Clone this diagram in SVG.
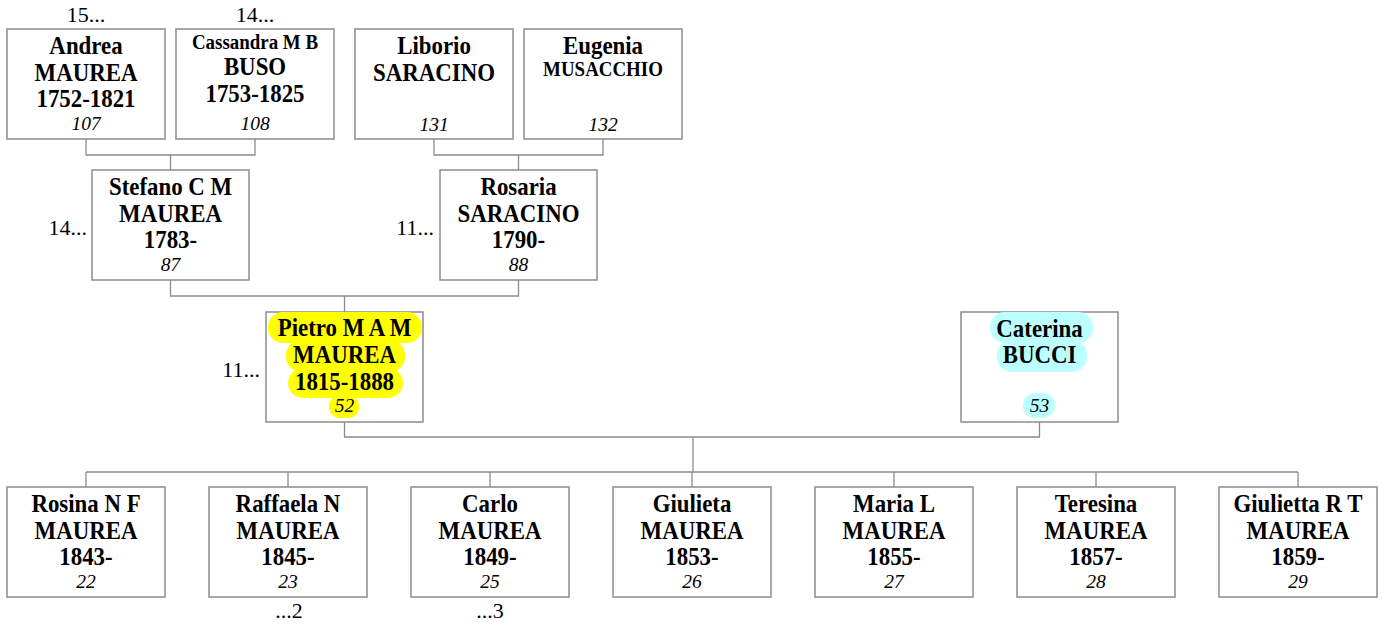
<svg xmlns="http://www.w3.org/2000/svg" width="1385" height="626" viewBox="0 0 1385 626">
<style>
.box{fill:#fff;stroke:#8c8c8c;stroke-width:1.5}
.t{font-family:"Liberation Serif","Times New Roman",serif;font-weight:bold;font-size:26px;text-anchor:middle;fill:#000}
.s{font-family:"Liberation Serif","Times New Roman",serif;font-weight:bold;font-size:21.5px;text-anchor:middle;fill:#000}
.n{font-family:"Liberation Serif","Times New Roman",serif;font-style:italic;font-size:19.5px;text-anchor:middle;fill:#000}
.l{font-family:"Liberation Serif","Times New Roman",serif;font-size:22px;fill:#000}
.c{fill:none;stroke:#8c8c8c;stroke-width:1.3}
.hy{fill:#ffff00}
.hc{fill:#bbffff}
</style>
<g id="connectors">
<path class="c" d="M86,139 V155 H255 V139 M170.5,155 V170"/>
<path class="c" d="M434,139 V155 H603 V139 M518.5,155 V170"/>
<path class="c" d="M170.5,280 V296 H518.5 V280 M344.5,296 V312"/>
<path class="c" d="M344.5,422 V437 H1039.5 V422 M693,437 V472"/>
<path class="c" d="M86,472 H1298 M86,472 V487 M288,472 V487 M490,472 V487 M692,472 V487 M894,472 V487 M1096,472 V487 M1298,472 V487"/>
</g>
<g id="labels">
<text class="l" x="86" y="22" text-anchor="middle">15...</text>
<text class="l" x="255" y="22" text-anchor="middle">14...</text>
<text class="l" x="87" y="235" text-anchor="end">14...</text>
<text class="l" x="434" y="235" text-anchor="end">11...</text>
<text class="l" x="260" y="377" text-anchor="end">11...</text>
<text class="l" x="289" y="618" text-anchor="middle">...2</text>
<text class="l" x="490" y="618" text-anchor="middle">...3</text>
</g>
<g id="n107"><rect class="box" x="7" y="29" width="158" height="110"/>
<g transform="matrix(0.88 0 0 1 86 0)"><text class="t" x="0" y="54">Andrea</text><text class="t" x="0" y="81">MAUREA</text><text class="t" x="0" y="107">1752-1821</text></g><text class="n" x="86" y="130">107</text></g>
<g id="n108"><rect class="box" x="176" y="29" width="158" height="110"/>
<g transform="matrix(0.88 0 0 1 255 0)"><text class="s" x="0" y="49">Cassandra M B</text><text class="t" x="0" y="75">BUSO</text><text class="t" x="0" y="102">1753-1825</text></g><text class="n" x="255" y="130">108</text></g>
<g id="n131"><rect class="box" x="355" y="29" width="158" height="110"/>
<g transform="matrix(0.88 0 0 1 434 0)"><text class="t" x="0" y="54">Liborio</text><text class="t" x="0" y="81">SARACINO</text></g><text class="n" x="434" y="131">131</text></g>
<g id="n132"><rect class="box" x="524" y="29" width="158" height="110"/>
<g transform="matrix(0.88 0 0 1 603 0)"><text class="t" x="0" y="54">Eugenia</text><text class="s" x="0" y="76">MUSACCHIO</text></g><text class="n" x="603" y="131">132</text></g>
<g id="n87"><rect class="box" x="92" y="170" width="157" height="110"/>
<g transform="matrix(0.88 0 0 1 170.5 0)"><text class="t" x="0" y="195">Stefano C M</text><text class="t" x="0" y="222">MAUREA</text><text class="t" x="0" y="248">1783-</text></g><text class="n" x="170.5" y="271">87</text></g>
<g id="n88"><rect class="box" x="440" y="170" width="157" height="110"/>
<g transform="matrix(0.88 0 0 1 518.5 0)"><text class="t" x="0" y="195">Rosaria</text><text class="t" x="0" y="222">SARACINO</text><text class="t" x="0" y="248">1790-</text></g><text class="n" x="518.5" y="271">88</text></g>
<g id="n52"><rect class="box" x="266" y="312" width="157" height="110"/>
<rect class="hy" x="268" y="312" width="154" height="31" rx="15"/>
<rect class="hy" x="286" y="340" width="119" height="32" rx="15"/>
<rect class="hy" x="288" y="368" width="115" height="30" rx="15"/>
<rect class="hy" x="329" y="395" width="30" height="23" rx="11"/>
<g transform="matrix(0.88 0 0 1 344.5 0)"><text class="t" x="0" y="336">Pietro M A M</text><text class="t" x="0" y="363">MAUREA</text><text class="t" x="0" y="390">1815-1888</text></g><text class="n" x="344.5" y="412">52</text></g>
<g id="n53"><rect class="box" x="961" y="312" width="157" height="110"/>
<rect class="hc" x="990" y="312" width="103" height="31" rx="15"/>
<rect class="hc" x="997" y="340" width="90" height="32" rx="15"/>
<rect class="hc" x="1023" y="393" width="32" height="25" rx="12"/>
<g transform="matrix(0.88 0 0 1 1039.5 0)"><text class="t" x="0" y="337">Caterina</text><text class="t" x="0" y="363">BUCCI</text></g><text class="n" x="1039.5" y="412">53</text></g>
<g id="n22"><rect class="box" x="7" y="487" width="158" height="110"/>
<g transform="matrix(0.88 0 0 1 86 0)"><text class="t" x="0" y="512">Rosina N F</text><text class="t" x="0" y="539">MAUREA</text><text class="t" x="0" y="565">1843-</text></g><text class="n" x="86" y="588">22</text></g>
<g id="n23"><rect class="box" x="209" y="487" width="158" height="110"/>
<g transform="matrix(0.88 0 0 1 288 0)"><text class="t" x="0" y="512">Raffaela N</text><text class="t" x="0" y="539">MAUREA</text><text class="t" x="0" y="565">1845-</text></g><text class="n" x="288" y="588">23</text></g>
<g id="n25"><rect class="box" x="411" y="487" width="158" height="110"/>
<g transform="matrix(0.88 0 0 1 490 0)"><text class="t" x="0" y="512">Carlo</text><text class="t" x="0" y="539">MAUREA</text><text class="t" x="0" y="565">1849-</text></g><text class="n" x="490" y="588">25</text></g>
<g id="n26"><rect class="box" x="613" y="487" width="158" height="110"/>
<g transform="matrix(0.88 0 0 1 692 0)"><text class="t" x="0" y="512">Giulieta</text><text class="t" x="0" y="539">MAUREA</text><text class="t" x="0" y="565">1853-</text></g><text class="n" x="692" y="588">26</text></g>
<g id="n27"><rect class="box" x="815" y="487" width="158" height="110"/>
<g transform="matrix(0.88 0 0 1 894 0)"><text class="t" x="0" y="512">Maria L</text><text class="t" x="0" y="539">MAUREA</text><text class="t" x="0" y="565">1855-</text></g><text class="n" x="894" y="588">27</text></g>
<g id="n28"><rect class="box" x="1017" y="487" width="158" height="110"/>
<g transform="matrix(0.88 0 0 1 1096 0)"><text class="t" x="0" y="512">Teresina</text><text class="t" x="0" y="539">MAUREA</text><text class="t" x="0" y="565">1857-</text></g><text class="n" x="1096" y="588">28</text></g>
<g id="n29"><rect class="box" x="1219" y="487" width="158" height="110"/>
<g transform="matrix(0.88 0 0 1 1298 0)"><text class="t" x="0" y="512">Giulietta R T</text><text class="t" x="0" y="539">MAUREA</text><text class="t" x="0" y="565">1859-</text></g><text class="n" x="1298" y="588">29</text></g>
</svg>
